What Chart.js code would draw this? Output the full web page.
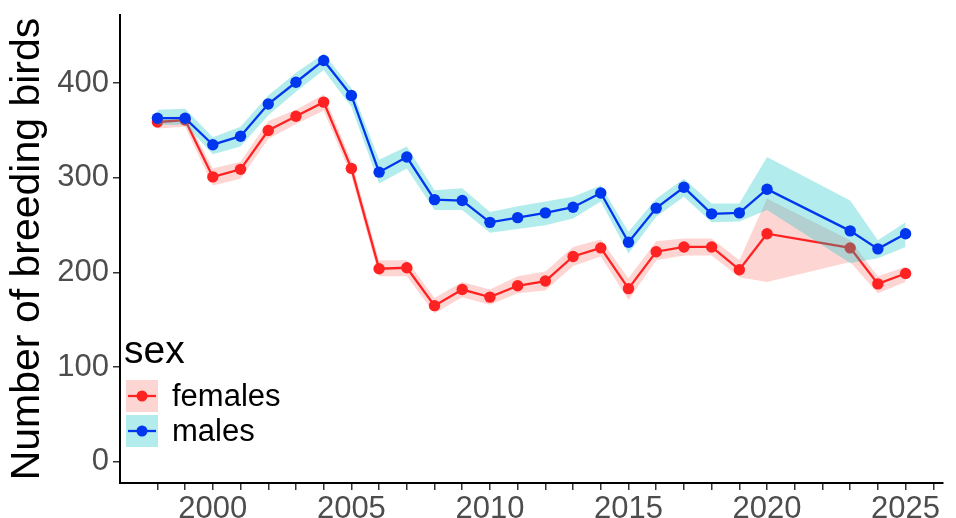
<!DOCTYPE html>
<html>
<head>
<meta charset="utf-8">
<script src="https://cdn.jsdelivr.net/npm/chart.js@4/dist/chart.umd.min.js"></script>
<style>
  html, body { margin: 0; padding: 0; background: #ffffff; }
  #wrap { width: 956px; height: 518px; }
</style>
</head>
<body>
<div id="wrap"><canvas id="c" width="956" height="518"></canvas></div>
<script>
// Survey years (no counts for 2021 and 2022)
const years = [1998, 1999, 2000, 2001, 2002, 2003, 2004, 2005, 2006, 2007, 2008, 2009, 2010,
               2011, 2012, 2013, 2014, 2015, 2016, 2017, 2018, 2019, 2020, 2023, 2024, 2025];

// Breeding females: estimate with lower / upper bounds
const females     = [359, 361, 301, 309, 350, 365, 380, 310, 204, 205, 165, 182, 174,
                     186, 191, 217, 226, 183, 222, 227, 227, 203, 241, 226, 188, 199];
const femalesLow  = [352, 354, 292, 299, 341, 357, 371, 302, 196, 196, 157, 174, 166,
                     178, 181, 207, 217, 171, 213, 218, 218, 195, 190, 211, 178, 190];
const femalesHigh = [364, 365, 310, 317, 360, 372, 388, 318, 213, 213, 173, 190, 182,
                     196, 201, 227, 235, 194, 233, 236, 236, 213, 278, 234, 196, 206];

// Breeding males: estimate with lower / upper bounds
const males       = [363, 363, 335, 344, 378, 401, 424, 387, 306, 322, 277, 276, 253,
                     258, 263, 269, 284, 232, 268, 290, 262, 263, 288, 244, 225, 241];
const malesLow    = [356, 356, 325, 333, 366, 391, 414, 375, 294, 310, 266, 266, 242,
                     246, 250, 257, 275, 220, 259, 280, 253, 254, 266, 210, 215, 227];
const malesHigh   = [372, 373, 343, 354, 387, 411, 431, 395, 319, 333, 287, 289, 264,
                     270, 275, 280, 292, 243, 278, 299, 273, 273, 322, 276, 234, 253];

// Axis ticks
const yTicks = [0, 100, 200, 300, 400];
const xTickYears = [1998, 1999, 2000, 2001, 2002, 2003, 2004, 2005, 2006, 2007, 2008, 2009, 2010,
                    2011, 2012, 2013, 2014, 2015, 2016, 2017, 2018, 2019, 2020, 2021, 2022,
                    2023, 2024, 2025, 2026];
const xLabelYears = [2000, 2005, 2010, 2015, 2020, 2025];

const FONT = "'Liberation Sans', Arial, Helvetica, sans-serif";
const RED = '#ff2222';
const BLUE = '#0036ee';
const RED_BAND = 'rgba(248, 118, 109, 0.3)';
const CYAN_BAND = 'rgba(0, 191, 196, 0.3)';

const pts = arr => years.map((yr, i) => ({ x: yr, y: arr[i] }));

const bandEdge = (label, data, order) => ({
  label, data: pts(data), order,
  borderWidth: 0, pointRadius: 0, fill: false, tension: 0,
  borderColor: 'rgba(0,0,0,0)', backgroundColor: 'rgba(0,0,0,0)'
});

// Legend in the lower-left of the plot area, ggplot style
const sexLegend = {
  id: 'sexLegend',
  afterDraw(chart) {
    const ctx = chart.ctx;
    ctx.save();
    ctx.fillStyle = '#000';
    ctx.textBaseline = 'alphabetic';
    ctx.textAlign = 'left';
    ctx.font = `39px ${FONT}`;
    ctx.fillText('sex', 124, 363);
    const items = [
      { text: 'females', band: RED_BAND, color: RED, top: 380 },
      { text: 'males', band: CYAN_BAND, color: BLUE, top: 415 }
    ];
    items.forEach(it => {
      ctx.fillStyle = it.band;
      ctx.fillRect(126, it.top, 32, 32);
      const cy = it.top + 16;
      ctx.strokeStyle = it.color;
      ctx.lineWidth = 2.3;
      ctx.beginPath();
      ctx.moveTo(128, cy);
      ctx.lineTo(156, cy);
      ctx.stroke();
      ctx.fillStyle = it.color;
      ctx.beginPath();
      ctx.arc(142, cy, 5.5, 0, Math.PI * 2);
      ctx.fill();
      ctx.fillStyle = '#000';
      ctx.font = `31px ${FONT}`;
      ctx.textBaseline = 'middle';
      ctx.fillText(it.text, 172, cy + 1);
    });
    ctx.restore();
  }
};

new Chart(document.getElementById('c'), {
  type: 'line',
  data: {
    datasets: [
      bandEdge('females low', femalesLow, 10),
      Object.assign(bandEdge('females high', femalesHigh, 9), { fill: 0, backgroundColor: RED_BAND }),
      {
        label: 'females', data: pts(females), order: 8, tension: 0,
        borderColor: RED, backgroundColor: RED, borderWidth: 2.3,
        pointRadius: 5.7, pointBorderWidth: 0, pointBackgroundColor: RED, fill: false
      },
      bandEdge('males low', malesLow, 7),
      Object.assign(bandEdge('males high', malesHigh, 6), { fill: 3, backgroundColor: CYAN_BAND }),
      {
        label: 'males', data: pts(males), order: 5, tension: 0,
        borderColor: BLUE, backgroundColor: BLUE, borderWidth: 2.3,
        pointRadius: 5.7, pointBorderWidth: 0, pointBackgroundColor: BLUE, fill: false
      }
    ]
  },
  options: {
    responsive: false,
    animation: false,
    events: [],
    layout: { padding: { top: 15, right: 13, left: 0, bottom: 0 } },
    plugins: {
      legend: { display: false },
      tooltip: { enabled: false },
      filler: { propagate: false }
    },
    scales: {
      x: {
        type: 'linear',
        min: 1996.65,
        max: 2026.35,
        afterBuildTicks: axis => { axis.ticks = xTickYears.map(v => ({ value: v })); },
        afterFit: axis => { axis.height = 35; axis.paddingLeft = 0; axis.paddingRight = 0; },
        grid: { drawOnChartArea: false, drawTicks: true, tickLength: 7, color: '#333333', lineWidth: 1.5 },
        border: { display: true, color: '#000000', width: 2 },
        ticks: {
          autoSkip: false, maxRotation: 0, padding: 1,
          color: '#4d4d4d', font: { family: FONT, size: 31 },
          callback: v => (xLabelYears.includes(v) ? String(v) : '')
        }
      },
      y: {
        min: -22.3,
        max: 472,
        afterBuildTicks: axis => { axis.ticks = yTicks.map(v => ({ value: v })); },
        afterFit: axis => { axis.width = 120; axis.paddingTop = 0; axis.paddingBottom = 0; },
        grid: { drawOnChartArea: false, drawTicks: true, tickLength: 7, color: '#333333', lineWidth: 1.5 },
        border: { display: true, color: '#000000', width: 2 },
        ticks: { padding: 4, color: '#4d4d4d', font: { family: FONT, size: 31 } },
        title: {
          display: true, text: 'Number of breeding birds', color: '#000000',
          font: { family: FONT, size: 41 }, padding: { top: 3, bottom: 0 }
        }
      }
    }
  },
  plugins: [sexLegend]
});
</script>
</body>
</html>
